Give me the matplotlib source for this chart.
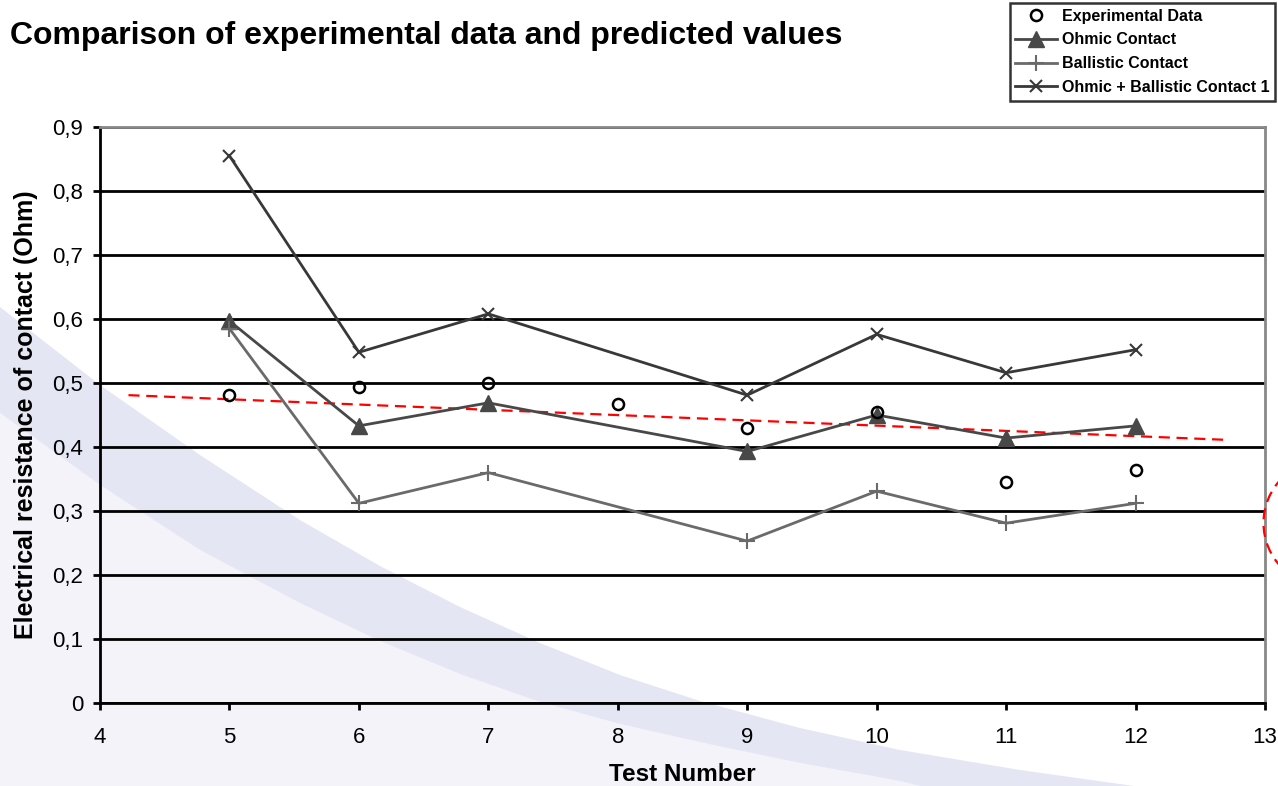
import numpy as np
import matplotlib.pyplot as plt
from matplotlib.patches import Polygon, Ellipse

# data
test_exp = [5, 6, 7, 8, 9, 10, 11, 12]
exp_vals = [0.481, 0.494, 0.500, 0.467, 0.430, 0.455, 0.345, 0.364]

test_pred = [5, 6, 7, 9, 10, 11, 12]
ohmic = [0.597, 0.433, 0.469, 0.393, 0.450, 0.414, 0.433]
ballistic = [0.585, 0.312, 0.360, 0.253, 0.331, 0.281, 0.312]
combined = [0.855, 0.548, 0.608, 0.481, 0.576, 0.516, 0.552]

# hand drawn red trend line (start / end)
trend_x = [4.22, 12.72]
trend_y = [0.481, 0.411]

xticks = [4, 5, 6, 7, 8, 9, 10, 11, 12, 13]
yticks = [0, 0.1, 0.2, 0.3, 0.4, 0.5, 0.6, 0.7, 0.8, 0.9]
ytick_labels = ["0", "0,1", "0,2", "0,3", "0,4", "0,5", "0,6", "0,7", "0,8", "0,9"]

plt.rcParams['font.family'] = ['Liberation Sans', 'DejaVu Sans']

W, H = 1278, 786
fig = plt.figure(figsize=(W / 100, H / 100), dpi=100)


def px(pts):
    # figure pixels (top-left origin) -> figure fraction
    return [(x / W, 1 - y / H) for x, y in pts]


# background swoosh, kept behind the axes
curve_a = [(0, 307), (100, 385), (200, 455), (300, 520), (380, 566), (460, 607),
           (540, 643), (620, 675), (700, 701), (800, 728), (900, 750), (1020, 770),
           (1134, 786)]
curve_b = [(0, 413), (100, 485), (200, 550), (300, 603), (380, 641), (460, 674),
           (540, 702), (620, 724), (713, 745), (800, 763), (900, 781), (920, 786)]
light = Polygon(px(curve_b + [(0, 786)]), closed=True, transform=fig.transFigure,
                facecolor='#f3f3f9', edgecolor='none', zorder=-10)
band = Polygon(px(curve_a + curve_b[::-1]), closed=True, transform=fig.transFigure,
               facecolor='#e4e7f3', edgecolor='none', zorder=-10)
fig.patches.extend([light, band])

ax = fig.add_axes([100 / W, 1 - 703 / H, 1165 / W, 576 / H])
ax.set_facecolor('none')

ax.plot(test_exp, exp_vals, linestyle='none', marker='o', markersize=8,
        markerfacecolor='none', markeredgecolor='black', markeredgewidth=1.8,
        label='Experimental Data', zorder=5)
ax.plot(test_pred, ohmic, color='#484848', lw=2, marker='^', markersize=11,
        label='Ohmic Contact', zorder=4)
ax.plot(test_pred, ballistic, color='#6a6a6a', lw=2, marker='+', markersize=11,
        markeredgewidth=1.5, label='Ballistic Contact', zorder=4)
ax.plot(test_pred, combined, color='#383838', lw=2, marker='x', markersize=9,
        markeredgewidth=1.5, label='Ohmic + Ballistic Contact 1', zorder=4)

ax.plot(trend_x, trend_y, color='red', lw=1.6, linestyle=(0, (5, 3)), zorder=3)

ax.set_xlim(4, 13)
ax.set_ylim(0, 0.9)
ax.set_xticks(xticks)
ax.set_yticks(yticks)
ax.set_yticklabels(ytick_labels)
ax.yaxis.grid(True, color='black', lw=2)
ax.set_axisbelow(True)

for s in ['left', 'bottom']:
    ax.spines[s].set_color('black')
    ax.spines[s].set_linewidth(2)
for s in ['top', 'right']:
    ax.spines[s].set_color('#888888')
    ax.spines[s].set_linewidth(2)

ax.tick_params(axis='both', direction='out', length=5, width=2, labelsize=16,
               colors='black')
ax.tick_params(axis='y', pad=7)
ax.tick_params(axis='x', pad=12)

ax.set_xlabel('Test Number', fontsize=17.5, fontweight='bold', labelpad=11)
ax.set_ylabel('Electrical resistance of contact (Ohm)', fontsize=18,
              fontweight='bold', labelpad=10)

fig.text(10 / W, 1 - 36 / H, 'Comparison of experimental data and predicted values',
         fontsize=23, fontweight='bold', va='center', ha='left')

leg = fig.legend(loc='upper right', bbox_to_anchor=(1275 / W, 1 - 3 / H),
                 prop={'weight': 'bold', 'size': 11.5},
                 frameon=True, fancybox=False, handlelength=2.6,
                 borderpad=0.35, labelspacing=0.55, handletextpad=0.3,
                 borderaxespad=0)
leg.get_frame().set_edgecolor('black')
leg.get_frame().set_linewidth(1.8)

# red dashed annotation circle, cut off at the right edge
circ = Ellipse((1327 / W, 1 - 523 / H), 127 / W, 127 / H, transform=fig.transFigure,
               facecolor='none', edgecolor='red', lw=1.6, linestyle=(0, (5, 3)))
fig.patches.append(circ)

fig.savefig('out.png', dpi=100)
